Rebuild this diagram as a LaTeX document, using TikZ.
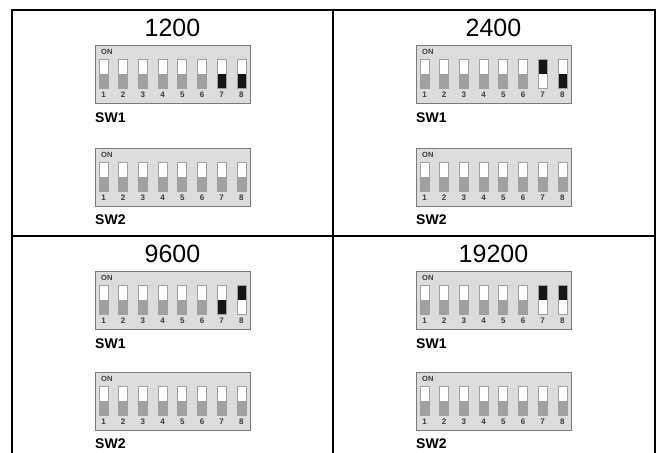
\documentclass[tikz,border=0pt]{standalone}
\usepackage{fontspec}
\setmainfont{Liberation Sans}
\usepackage{xcolor}
\usetikzlibrary{positioning}

\definecolor{dipface}{HTML}{DCDCDC}
\definecolor{dipedge}{HTML}{7A7A7A}
\definecolor{slotedge}{HTML}{A0A0A0}
\definecolor{offgray}{HTML}{A0A0A0}
\definecolor{onblack}{HTML}{151515}
\definecolor{digit}{HTML}{3C3C3C}

\tikzset{
  gridline/.style={line width=2.6pt},
  rate/.style={font=\fontsize{25}{25}\selectfont, inner sep=0pt},
  swname/.style={font=\bfseries\fontsize{14}{14}\selectfont, anchor=west, inner sep=0pt},
  dipbox/.style={draw=dipedge, fill=dipface, line width=1.4pt, anchor=north west,
    minimum width=155pt, minimum height=58pt, inner sep=0pt},
  onmark/.style={font=\bfseries\fontsize{7.5}{7.5}\selectfont, text=digit, anchor=west, inner sep=0pt},
  slotnum/.style={font=\bfseries\fontsize{8}{8}\selectfont, text=digit, inner sep=0pt},
  slotframe/.style={draw=slotedge, line width=0.7pt}
}

% #1 name, #2 x, #3 y, #4 states: 0 off, 1 black down, 2 black up
\newcommand{\dipunit}[4]{%
  \node[dipbox] (#1) at (#2,#3) {};
  \node[onmark] (#1-on) at ([xshift=6pt,yshift=-7pt]#1.north west) {ON};
  \foreach \s [count=\i] in {#4} {
    \ifcase\s \def\ct{white}\def\cb{offgray}\or
      \def\ct{white}\def\cb{onblack}\or
      \def\ct{onblack}\def\cb{white}\fi
    \coordinate (#1-a\i) at ([xshift={4pt+(\i-1)*19.7pt},yshift=-14pt]#1.north west);
    \coordinate (#1-m\i) at ([xshift={4pt+(\i-1)*19.7pt+9pt},yshift=-28.5pt]#1.north west);
    \coordinate (#1-b\i) at ([xshift={4pt+(\i-1)*19.7pt+9pt},yshift=-43pt]#1.north west);
    \fill[\ct] (#1-a\i) rectangle (#1-m\i);
    \fill[\cb] (#1-m\i -| #1-a\i) rectangle (#1-b\i);
    \draw[slotframe] (#1-a\i) rectangle (#1-b\i);
    \node[slotnum] (#1-n\i) at ([xshift={4pt+(\i-1)*19.7pt+4.5pt},yshift=-50pt]#1.north west) {\i};
  }
}

\begin{document}
\begin{tikzpicture}[x=1pt,y=-1pt]
\useasboundingbox (0,0) rectangle (657,453);

% table
\draw[gridline] (12,453) -- (12,10) -- (655,10) -- (655,453);
\draw[gridline] (333,10) -- (333,453);
\draw[gridline] (12,236) -- (655,236);

% 1200
\node[rate] (r1200) at (172.5,28) {1200};
\dipunit{a1}{95}{45}{0,0,0,0,0,0,1,1}
\node[swname] (a1-name) at (95,118) {SW1};
\dipunit{a2}{95}{148}{0,0,0,0,0,0,0,0}
\node[swname] (a2-name) at (95,220) {SW2};

% 2400
\node[rate] (r2400) at (493.5,28) {2400};
\dipunit{b1}{416}{45}{0,0,0,0,0,0,2,1}
\node[swname] (b1-name) at (416,118) {SW1};
\dipunit{b2}{416}{148}{0,0,0,0,0,0,0,0}
\node[swname] (b2-name) at (416,220) {SW2};

% 9600
\node[rate] (r9600) at (172.5,254) {9600};
\dipunit{c1}{95}{271}{0,0,0,0,0,0,1,2}
\node[swname] (c1-name) at (95,344) {SW1};
\dipunit{c2}{95}{372}{0,0,0,0,0,0,0,0}
\node[swname] (c2-name) at (95,444) {SW2};

% 19200
\node[rate] (r19200) at (493.5,254) {19200};
\dipunit{d1}{416}{271}{0,0,0,0,0,0,2,2}
\node[swname] (d1-name) at (416,344) {SW1};
\dipunit{d2}{416}{372}{0,0,0,0,0,0,0,0}
\node[swname] (d2-name) at (416,444) {SW2};
\end{tikzpicture}
\end{document}
